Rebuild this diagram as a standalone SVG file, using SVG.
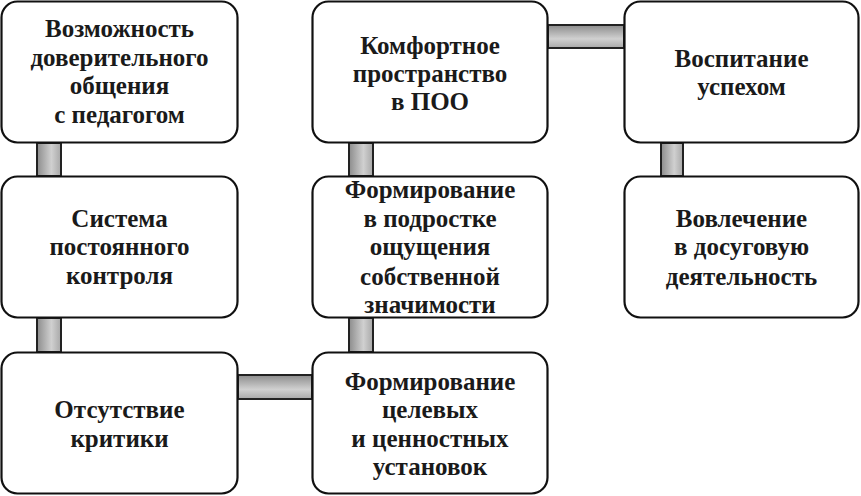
<svg xmlns="http://www.w3.org/2000/svg" width="861" height="496" viewBox="0 0 861 496">
<defs>
<linearGradient id="gv" x1="0" y1="0" x2="1" y2="0">
<stop offset="0" stop-color="#8c8c8c"/><stop offset="0.6" stop-color="#d0d0d0"/><stop offset="1" stop-color="#a8a8a8"/>
</linearGradient>
<linearGradient id="gh" x1="0" y1="0" x2="0" y2="1">
<stop offset="0" stop-color="#8c8c8c"/><stop offset="0.6" stop-color="#d0d0d0"/><stop offset="1" stop-color="#a8a8a8"/>
</linearGradient>
<style>
.box{fill:#fff;stroke:#111;stroke-width:2.2}
.cv{fill:url(#gv);stroke:#222;stroke-width:2}
.ch{fill:url(#gh);stroke:#222;stroke-width:2}
</style>
</defs>
<rect width="861" height="496" fill="#fff"/>
<g id="connectors">
<rect class="cv" x="37" y="143" width="24" height="33"/>
<rect class="cv" x="37" y="318" width="24" height="34"/>
<rect class="ch" x="238" y="375" width="74" height="24"/>
<rect class="cv" x="349" y="143" width="24" height="33"/>
<rect class="cv" x="349" y="318" width="24" height="34"/>
<rect class="ch" x="548" y="25" width="76" height="23"/>
<rect class="cv" x="661" y="143" width="22" height="33"/>
</g>
<g font-family="Liberation Serif, Times New Roman, serif" font-weight="bold" font-size="25" fill="#1a1a1a" text-anchor="middle">
<g id="n1">
<rect class="box" x="1.5" y="1.5" width="236" height="141" rx="16"/>
<text x="119.5" y="37">Возможность</text>
<text x="119.5" y="66">доверительного</text>
<text x="119.5" y="94">общения</text>
<text x="119.5" y="123">с педагогом</text>
</g>
<g id="n2">
<rect class="box" x="1.5" y="176.5" width="236" height="141" rx="16"/>
<text x="119.5" y="227">Система</text>
<text x="119.5" y="255">постоянного</text>
<text x="119.5" y="284">контроля</text>
</g>
<g id="n3">
<rect class="box" x="1.5" y="352.5" width="236" height="141" rx="16"/>
<text x="119.5" y="418">Отсутствие</text>
<text x="119.5" y="447">критики</text>
</g>
<g id="n4">
<rect class="box" x="312.5" y="1.5" width="235" height="141" rx="16"/>
<text x="430" y="54">Комфортное</text>
<text x="430" y="82">пространство</text>
<text x="430" y="110">в ПОО</text>
</g>
<g id="n5">
<rect class="box" x="312.5" y="176.5" width="235" height="141" rx="16"/>
<text x="430" y="198">Формирование</text>
<text x="430" y="227">в подростке</text>
<text x="430" y="255">ощущения</text>
<text x="430" y="285">собственной</text>
<text x="430" y="313">значимости</text>
</g>
<g id="n6">
<rect class="box" x="312.5" y="352.5" width="235" height="141" rx="16"/>
<text x="430" y="390">Формирование</text>
<text x="430" y="418">целевых</text>
<text x="430" y="447">и ценностных</text>
<text x="430" y="475">установок</text>
</g>
<g id="n7">
<rect class="box" x="624.5" y="1.5" width="234" height="141" rx="16"/>
<text x="741.5" y="67">Воспитание</text>
<text x="741.5" y="95">успехом</text>
</g>
<g id="n8">
<rect class="box" x="624.5" y="176.5" width="234" height="141" rx="16"/>
<text x="741.5" y="227">Вовлечение</text>
<text x="741.5" y="255">в досуговую</text>
<text x="741.5" y="285">деятельность</text>
</g>
</g>
</svg>
